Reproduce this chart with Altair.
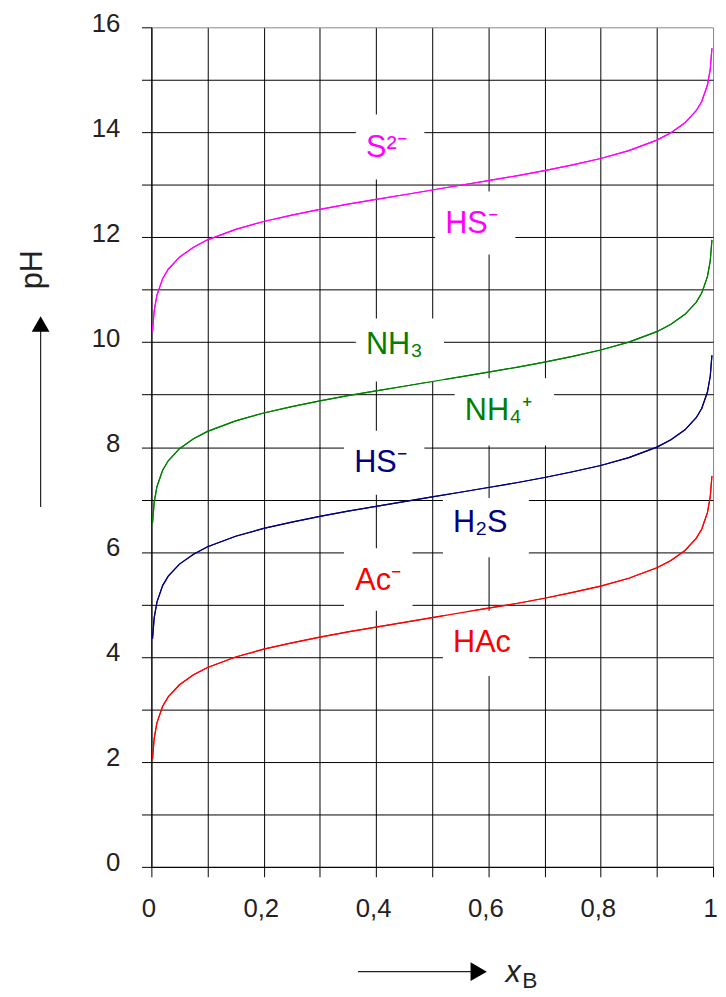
import altair as alt
import pandas as pd

# ---- data ----
x_b = [0.002, 0.005, 0.01, 0.02, 0.03, 0.05, 0.075, 0.1, 0.15, 0.2, 0.25, 0.3, 0.35,
       0.4, 0.45, 0.5, 0.55, 0.6, 0.65, 0.7, 0.75, 0.8, 0.85, 0.9, 0.925, 0.95, 0.97,
       0.98, 0.99, 0.995, 0.998]
ph_hac = [2.05, 2.45, 2.75, 3.06, 3.24, 3.47, 3.66, 3.80, 4.00, 4.15, 4.27, 4.38, 4.48,
          4.57, 4.66, 4.75, 4.84, 4.93, 5.02, 5.12, 5.23, 5.35, 5.50, 5.70, 5.84, 6.03,
          6.26, 6.44, 6.75, 7.05, 7.45]
ph_h2s = [4.35, 4.75, 5.05, 5.36, 5.54, 5.77, 5.96, 6.10, 6.30, 6.45, 6.57, 6.68, 6.78,
          6.87, 6.96, 7.05, 7.14, 7.23, 7.32, 7.42, 7.53, 7.65, 7.80, 8.00, 8.14, 8.33,
          8.56, 8.74, 9.05, 9.35, 9.75]
ph_nh4 = [6.55, 6.95, 7.25, 7.56, 7.74, 7.97, 8.16, 8.30, 8.50, 8.65, 8.77, 8.88, 8.98,
          9.07, 9.16, 9.25, 9.34, 9.43, 9.52, 9.62, 9.73, 9.85, 10.00, 10.20, 10.34, 10.53,
          10.76, 10.94, 11.25, 11.55, 11.95]
ph_hs = [10.20, 10.60, 10.90, 11.21, 11.39, 11.62, 11.81, 11.95, 12.15, 12.30, 12.42, 12.53,
         12.63, 12.72, 12.81, 12.90, 12.99, 13.08, 13.17, 13.27, 13.38, 13.50, 13.65, 13.85,
         13.99, 14.18, 14.41, 14.59, 14.90, 15.20, 15.60]

series_names = ["HAc", "H2S", "NH4+", "HS-"]
series_colors = ["#ff0000", "#000080", "#008000", "#ff00ff"]

label_text = ["S²⁻", "HS⁻", "NH₃", "NH₄⁺", "HS⁻", "H₂S", "Ac⁻", "HAc"]
label_x = [0.382, 0.523, 0.382, 0.558, 0.361, 0.537, 0.363, 0.537]
label_y = [13.53, 12.08, 9.78, 8.52, 7.53, 6.38, 5.28, 4.09]
label_color = ["#ff00ff", "#ff00ff", "#008000", "#008000", "#000080", "#000080", "#ff0000", "#ff0000"]
box_x1 = [0.364, 0.505, 0.364, 0.540, 0.343, 0.519, 0.343, 0.519]
box_x2 = [0.486, 0.648, 0.521, 0.717, 0.486, 0.672, 0.465, 0.672]
box_y1 = [13.10, 11.67, 9.25, 8.03, 7.09, 5.90, 4.88, 3.64]
box_y2 = [14.34, 12.87, 10.45, 9.31, 8.31, 7.03, 6.07, 4.88]

x_ticks = [i / 10 for i in range(11)]
y_ticks = list(range(17))

# ---- tables ----
rows = []
for name, vals in zip(series_names, [ph_hac, ph_h2s, ph_nh4, ph_hs]):
    for xv, yv in zip(x_b, vals):
        rows.append({"series": name, "x": xv, "ph": yv})
curves = pd.DataFrame(rows)
labels = pd.DataFrame({"text": label_text, "x": label_x, "y": label_y, "color": label_color})
boxes = pd.DataFrame({"x1": box_x1, "x2": box_x2, "y1": box_y1, "y2": box_y2})

FONT = "Liberation Sans"
W, H = 568, 849

x_scale = alt.Scale(domain=[0, 1], nice=False, zero=False)
y_scale = alt.Scale(domain=[0, 16], nice=False)

x_axis = alt.Axis(
    values=x_ticks, title=None, grid=True, tickSize=10,
    labelExpr="round(datum.value*10) % 2 == 0 ? replace(format(datum.value, '~g'), '.', ',') : ''",
    labelFontSize=26, labelFont=FONT, labelColor="#222", labelPadding=19, labelOffset=-3,
    labelFlush=False, labelOverlap=False,
    gridColor={"condition": {"test": "datum.value == 1", "value": "#888"}, "value": "black"},
)
y_axis = alt.Axis(
    values=y_ticks, title=None, grid=True, tickSize=10,
    labelExpr="datum.value % 2 == 0 ? datum.label : ''",
    labelFontSize=26, labelFont=FONT, labelColor="#222", labelPadding=22,
    labelBaseline="middle", labelOffset=-4, labelOverlap=False,
    gridColor={"condition": {"test": "datum.value == 16", "value": "#888"}, "value": "black"},
)

base_lines = alt.Chart(curves).mark_line(strokeWidth=1.2, clip=False).encode(
    x=alt.X("x:Q", scale=x_scale, axis=x_axis),
    y=alt.Y("ph:Q", scale=y_scale, axis=y_axis),
    color=alt.Color("series:N", scale=alt.Scale(domain=series_names, range=series_colors), legend=None),
    detail="series:N",
)

rects = alt.Chart(boxes).mark_rect(color="white", opacity=1).encode(
    x=alt.X("x1:Q", scale=x_scale), x2="x2:Q",
    y=alt.Y("y1:Q", scale=y_scale), y2="y2:Q",
)

texts = alt.Chart(labels).mark_text(align="left", baseline="alphabetic", fontSize=31, font=FONT).encode(
    x=alt.X("x:Q", scale=x_scale),
    y=alt.Y("y:Q", scale=y_scale),
    text="text:N",
    color=alt.Color("color:N", scale=None),
)

one = pd.DataFrame({"k": [0]})

ph_title = alt.Chart(one).mark_text(text="pH", angle=270, align="center", baseline="alphabetic",
                                    fontSize=31, font=FONT, color="#222").encode(
    x=alt.value(-111), y=alt.value(245))
up_line = alt.Chart(one).mark_rule(color="#222", strokeWidth=1.2).encode(
    x=alt.value(-112), y=alt.value(306), y2=alt.value(485))
up_head = alt.Chart(one).mark_point(shape="triangle-up", filled=True, color="black", opacity=1,
                                    size=324).encode(x=alt.value(-112), y=alt.value(300))

right_line = alt.Chart(one).mark_rule(color="#222", strokeWidth=1.2).encode(
    x=alt.value(209), x2=alt.value(325), y=alt.value(955))
right_head = alt.Chart(one).mark_point(shape="triangle-right", filled=True, color="black", opacity=1,
                                       size=361).encode(x=alt.value(331), y=alt.value(955))
xb_x = alt.Chart(one).mark_text(text="x", align="left", baseline="alphabetic", fontSize=31,
                                font=FONT, fontStyle="italic", color="#222").encode(
    x=alt.value(358), y=alt.value(965))
xb_b = alt.Chart(one).mark_text(text="B", align="left", baseline="alphabetic", fontSize=23,
                                font=FONT, color="#222").encode(
    x=alt.value(375), y=alt.value(971))

chart = alt.layer(
    base_lines, rects, base_lines, texts,
    ph_title, up_line, up_head, right_line, right_head, xb_x, xb_b,
).properties(
    width=W, height=H,
    autosize=alt.AutoSizeParams(type="none"),
    padding={"left": 145, "top": 14, "right": 5, "bottom": 122},
).configure_view(stroke=None).configure_axis(
    domainColor="black", tickColor="black", gridOpacity=1, gridWidth=1, domainWidth=1, tickWidth=1,
)

chart.save("out.html", embed_options={"renderer": "svg", "actions": False})
